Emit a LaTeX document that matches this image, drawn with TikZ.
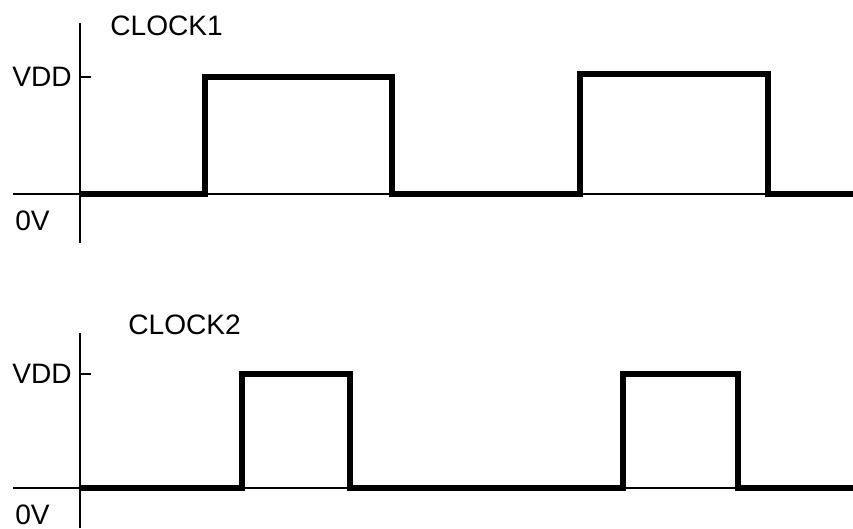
\documentclass[tikz,border=0pt]{standalone}
\usepackage{fontspec}
\setmainfont{Liberation Sans}
\usepackage{tikz}

\tikzset{
  axis/.style={line width=1.1pt},
  signal/.style={line width=2.9pt},
  lbl/.style={inner sep=0pt, font=\fontsize{16}{19}\selectfont}
}

\begin{document}
\begin{tikzpicture}
            \useasboundingbox (0,0) rectangle (17.06,10.56);

            % CLOCK1 labels
            \node[lbl, anchor=west] (title1) at (2.2,10.04) {CLOCK1};
            \node[lbl, anchor=east] (vdd1) at (1.44,9.02) {VDD};
            \node[lbl, anchor=west] (zero1) at (0.3,6.14) {0V};

            % CLOCK1 axes
            \draw[axis] (1.6,5.7) -- (1.6,10.1);
            \draw[axis] (0.26,6.68) -- (17.06,6.68);
            \draw[axis] (1.6,9.02) -- (1.82,9.02);

            % CLOCK1 signal
            \draw[signal] (1.6,6.68) -- (4.1,6.68) -- (4.1,9.02) -- (7.84,9.02)
                -- (7.84,6.68) -- (11.6,6.68) -- (11.6,9.08) -- (15.36,9.08)
                -- (15.36,6.68) -- (17.06,6.68);

            % CLOCK2 labels
            \node[lbl, anchor=west] (title2) at (2.56,4.06) {CLOCK2};
            \node[lbl, anchor=east] (vdd2) at (1.44,3.08) {VDD};
            \node[lbl, anchor=west] (zero2) at (0.3,0.26) {0V};

            % CLOCK2 axes
            \draw[axis] (1.6,0) -- (1.6,3.9);
            \draw[axis] (0.26,0.8) -- (17.06,0.8);
            \draw[axis] (1.6,3.08) -- (1.82,3.08);

            % CLOCK2 signal
            \draw[signal] (1.6,0.8) -- (4.84,0.8) -- (4.84,3.08) -- (7.0,3.08)
                -- (7.0,0.8) -- (12.46,0.8) -- (12.46,3.08) -- (14.76,3.08)
                -- (14.76,0.8) -- (17.06,0.8);
        \end{tikzpicture}
\end{document}
